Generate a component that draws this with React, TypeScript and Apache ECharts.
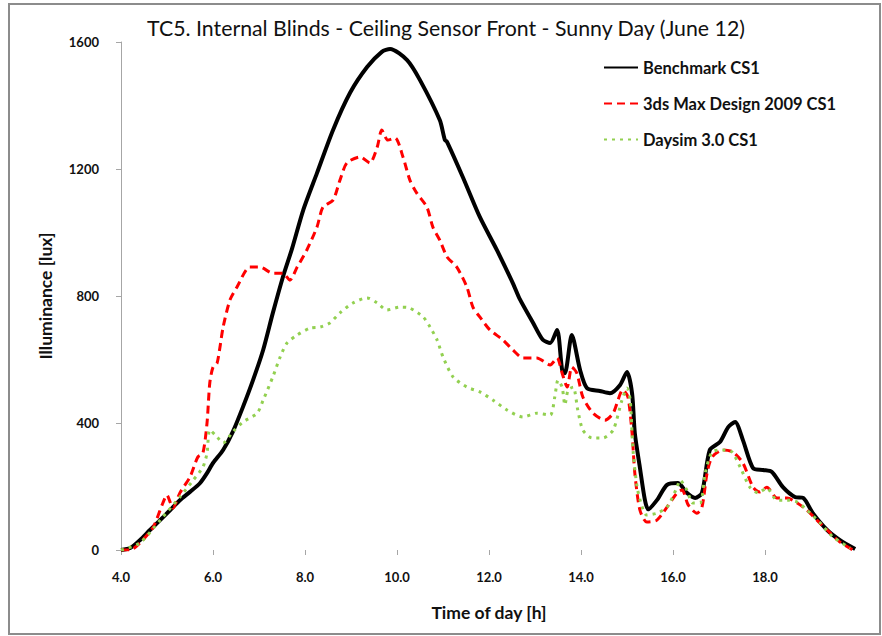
import React, { useEffect, useRef } from "react";
import * as echarts from "echarts";

const titleText = "TC5. Internal Blinds - Ceiling Sensor Front - Sunny Day (June 12)";
const seriesNames = ["Benchmark CS1", "3ds Max Design 2009 CS1", "Daysim 3.0 CS1"];
const xTicks = [4, 6, 8, 10, 12, 14, 16, 18];
const yTicks = [0, 400, 800, 1200, 1600];

// [hour, lux]
const benchmark: [number, number][] = [
  [4.0, 0], [4.2, 6], [4.41, 31], [4.63, 63], [4.85, 94], [5.07, 126], [5.28, 157], [5.5, 183],
  [5.72, 211], [5.87, 242], [6.0, 274], [6.22, 315], [6.43, 372], [6.65, 450], [6.87, 535],
  [7.09, 630], [7.3, 746], [7.52, 860], [7.72, 950], [7.96, 1070], [8.26, 1187], [8.61, 1323],
  [8.98, 1440], [9.35, 1521], [9.67, 1569], [9.85, 1578], [10.22, 1543], [10.5, 1480],
  [10.93, 1354], [11.04, 1292], [11.09, 1285], [11.43, 1175], [11.8, 1049], [12.17, 945],
  [12.52, 840], [12.67, 790], [12.96, 715], [13.17, 662], [13.33, 652], [13.48, 693],
  [13.59, 567], [13.65, 557], [13.8, 677], [13.98, 567], [14.13, 510], [14.41, 501],
  [14.63, 494], [14.85, 520], [15.0, 561], [15.11, 494], [15.17, 368], [15.28, 260],
  [15.39, 157], [15.46, 128], [15.65, 157], [15.87, 205], [16.11, 211], [16.3, 180],
  [16.48, 164], [16.63, 180], [16.8, 315], [17.02, 340], [17.2, 387], [17.35, 403],
  [17.52, 346], [17.74, 258], [17.96, 252], [18.15, 246], [18.39, 198], [18.65, 167],
  [18.83, 164], [19.04, 116], [19.35, 63], [19.63, 31], [19.96, 3],
];

const maxDesign: [number, number][] = [
  [4.0, 0], [4.2, 0], [4.41, 22], [4.7, 72], [4.91, 148], [5.0, 173], [5.07, 150], [5.13, 132],
  [5.28, 180], [5.5, 230], [5.67, 293], [5.78, 305], [5.87, 400], [5.93, 526], [6.0, 576],
  [6.09, 589], [6.22, 702], [6.37, 788], [6.52, 828], [6.8, 891], [7.02, 891], [7.3, 872],
  [7.52, 872], [7.67, 850], [7.83, 891], [8.04, 945], [8.26, 1017], [8.39, 1080], [8.61, 1102],
  [8.76, 1165], [8.91, 1219], [9.2, 1238], [9.41, 1219], [9.57, 1269], [9.67, 1323],
  [9.8, 1291], [9.96, 1298], [10.13, 1238], [10.28, 1165], [10.43, 1124], [10.65, 1080],
  [10.78, 1017], [10.93, 976], [11.09, 923], [11.3, 891], [11.52, 828], [11.65, 765],
  [11.8, 734], [12.02, 693], [12.3, 662], [12.52, 630], [12.74, 605], [13.04, 605],
  [13.33, 583], [13.48, 605], [13.59, 557], [13.7, 513], [13.8, 576], [13.91, 557],
  [14.04, 482], [14.26, 431], [14.52, 409], [14.7, 431], [14.91, 504], [15.02, 482],
  [15.11, 368], [15.17, 242], [15.28, 126], [15.43, 88], [15.65, 94], [15.87, 135],
  [16.09, 180], [16.2, 189], [16.33, 142], [16.52, 116], [16.63, 135], [16.74, 242],
  [16.85, 293], [17.09, 315], [17.3, 309], [17.52, 274], [17.74, 198], [17.89, 183],
  [18.04, 198], [18.26, 164], [18.48, 164], [18.7, 148], [18.91, 126], [19.13, 94],
  [19.35, 63], [19.63, 25], [19.91, 0],
];

const daysim: [number, number][] = [
  [4.0, 0], [4.41, 22], [4.85, 94], [5.28, 167], [5.57, 220], [5.78, 261], [5.87, 305],
  [5.93, 378], [6.09, 356], [6.22, 337], [6.43, 372], [6.65, 403], [6.96, 431], [7.09, 472],
  [7.3, 545], [7.46, 608], [7.61, 652], [7.83, 677], [8.11, 699], [8.33, 702], [8.54, 715],
  [8.76, 747], [9.04, 778], [9.35, 794], [9.57, 778], [9.78, 756], [10.07, 765], [10.28, 762],
  [10.57, 734], [10.72, 702], [10.87, 662], [11.0, 608], [11.22, 545], [11.52, 513],
  [11.8, 498], [12.09, 472], [12.39, 441], [12.74, 419], [13.04, 431], [13.33, 425],
  [13.43, 482], [13.5, 535], [13.59, 513], [13.65, 457], [13.72, 504], [13.83, 513],
  [13.93, 441], [14.04, 378], [14.24, 353], [14.48, 353], [14.7, 378], [14.89, 472],
  [15.0, 510], [15.07, 472], [15.13, 315], [15.22, 198], [15.33, 135], [15.43, 110],
  [15.65, 116], [15.87, 135], [16.09, 198], [16.15, 220], [16.3, 189], [16.43, 148],
  [16.59, 148], [16.7, 242], [16.85, 309], [17.07, 315], [17.28, 309], [17.46, 261],
  [17.67, 198], [17.85, 180], [18.04, 195], [18.26, 157], [18.48, 157], [18.7, 151],
  [18.91, 126], [19.2, 85], [19.48, 41], [19.85, 6],
];

const FONT = "Lato, 'Open Sans', sans-serif";

export default function App() {
  const ref = useRef<HTMLDivElement>(null);
  useEffect(() => {
    document.body.style.margin = "0";
    if (!ref.current) return;
    const chart = echarts.init(ref.current, null, { renderer: "svg" });
    chart.setOption({
      animation: false,
      backgroundColor: "#ffffff",
      title: {
        text: titleText,
        left: 441,
        textAlign: "center",
        top: 12,
        textStyle: { fontFamily: FONT, fontSize: 21.3, fontWeight: "normal", color: "#111" },
      },
      legend: {
        orient: "vertical",
        left: 603,
        top: 59,
        padding: 0,
        itemWidth: 34,
        itemHeight: 10,
        itemGap: 19,
        itemStyle: { opacity: 0 },
        textStyle: { fontFamily: FONT, fontSize: 16.5, fontWeight: "bold", color: "#111" },
        data: seriesNames,
      },
      grid: { left: 121, right: 25, top: 42, bottom: 86 },
      xAxis: {
        type: "value",
        min: 4,
        max: 20,
        interval: 2,
        name: "Time of day [h]",
        nameLocation: "middle",
        nameGap: 53,
        nameTextStyle: { fontFamily: FONT, fontSize: 17.5, fontWeight: "bold", color: "#111" },
        axisLine: { show: false },
        axisTick: {
          show: true,
          inside: false,
          length: 5,
          customValues: xTicks,
          lineStyle: { color: "#a6a6a6" },
        },
        axisLabel: {
          customValues: xTicks,
          formatter: (v: number) => v.toFixed(1),
          margin: 20,
          fontFamily: FONT,
          fontSize: 13,
          fontWeight: "bold",
          color: "#111",
        },
        splitLine: { show: false },
      },
      yAxis: {
        type: "value",
        min: 0,
        max: 1600,
        interval: 400,
        name: "Illuminance [lux]",
        nameLocation: "middle",
        nameGap: 67,
        nameTextStyle: { fontFamily: FONT, fontSize: 17.5, fontWeight: "bold", color: "#111" },
        axisLine: { show: true, lineStyle: { color: "#a6a6a6", width: 1 } },
        axisTick: { show: true, inside: false, length: 5, lineStyle: { color: "#a6a6a6" } },
        axisLabel: {
          customValues: yTicks,
          formatter: (v: number) => String(v),
          margin: 22,
          fontFamily: FONT,
          fontSize: 13,
          fontWeight: "bold",
          color: "#111",
        },
        splitLine: { show: false },
      },
      graphic: [
        {
          type: "rect",
          shape: { x: 9, y: 4, width: 871, height: 630 },
          style: { fill: "none", stroke: "#8c8c8c", lineWidth: 2 },
          silent: true,
          z: 100,
        },
      ],
      series: [
        {
          name: seriesNames[0],
          type: "line",
          data: benchmark,
          showSymbol: false,
          symbol: "none",
          smooth: 0.25,
          lineStyle: { color: "#000000", width: 4 },
          itemStyle: { color: "#000000" },
          z: 3,
        },
        {
          name: seriesNames[1],
          type: "line",
          data: maxDesign,
          showSymbol: false,
          symbol: "none",
          smooth: 0.25,
          lineStyle: { color: "#ff0000", width: 3, type: [8, 5] },
          itemStyle: { color: "#ff0000" },
          z: 4,
        },
        {
          name: seriesNames[2],
          type: "line",
          data: daysim,
          showSymbol: false,
          symbol: "none",
          smooth: 0.25,
          lineStyle: { color: "#92d050", width: 3, type: [3, 5] },
          itemStyle: { color: "#92d050" },
          z: 5,
        },
      ],
    });
    return () => chart.dispose();
  }, []);
  return <div ref={ref} style={{ width: 882, height: 636 }} />;
}
